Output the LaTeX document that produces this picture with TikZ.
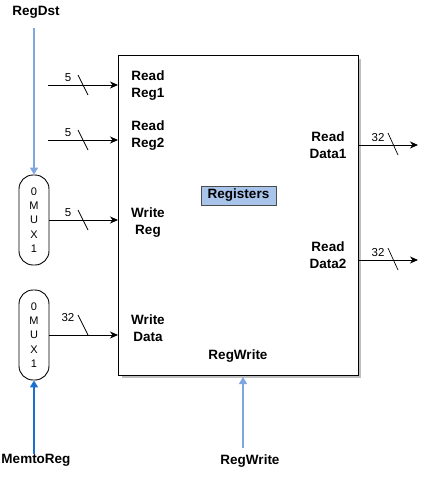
\documentclass[tikz,border=0pt]{standalone}
\usepackage{fontspec}
\setmainfont{Liberation Sans}
\usetikzlibrary{arrows.meta,positioning}
\definecolor{ltblue}{HTML}{7EA6E0}
\definecolor{dkblue}{HTML}{1B6FD1}
\definecolor{regfill}{HTML}{A9C4EB}
\tikzset{
  x=1pt,y=-1pt,
  lbl/.style={font=\fontsize{13.5}{17}\selectfont\bfseries, align=center, inner sep=0pt},
  num/.style={font=\fontsize{11.5}{13}\selectfont, inner sep=0pt},
  muxbox/.style={draw, line width=0.9pt, rounded corners=14pt, minimum width=30pt, minimum height=90pt, inner sep=0pt, align=center, font=\fontsize{11}{14.2}\selectfont},
  bus/.style={line width=0.9pt, -{Stealth[length=8pt,width=7pt,inset=2.5pt]}},
  ctl/.style={line width=1.4pt, -{Triangle[length=7pt,width=8pt]}},
  slashmark/.style={line width=0.7pt}
}
\begin{document}
\begin{tikzpicture}
\useasboundingbox (0,0) rectangle (437,485);
% register file box with shadow
\fill[black!25] (122,59) rectangle (361,378);
\node[draw, fill=white, line width=1pt, minimum width=240pt, minimum height=320pt, inner sep=0pt, anchor=north west] (rf) at (118,55) {};
\node[draw=black!70, fill=regfill, line width=0.8pt, minimum width=75pt, minimum height=19pt, inner sep=0pt, font=\fontsize{13.5}{15}\selectfont\bfseries] (regs) at (238.5,195.5) {Registers};
% inside labels
\node[lbl] (rr1) at (148,86) {Read\\Reg1};
\node[lbl] (rr2) at (148,136) {Read\\Reg2};
\node[lbl] (wr) at (148,223) {Write\\Reg};
\node[lbl] (wd) at (148,328) {Write\\Data};
\node[lbl] (rd1) at (328,145) {Read\\Data1};
\node[lbl] (rd2) at (328,255) {Read\\Data2};
\node[lbl] (rwin) at (238,356) {RegWrite};
% muxes
\node[muxbox] (mux1) at (34,220) {0\\M\\U\\X\\1};
\node[muxbox] (mux2) at (34,335) {0\\M\\U\\X\\1};
% control labels
\node[lbl] (regdst) at (36,12) {RegDst};
\node[lbl] (memtoreg) at (36,460) {MemtoReg};
\node[lbl] (regwrite) at (250,461) {RegWrite};
% control arrows
\coordinate (c1) at (34,28);
\draw[ctl, draw=ltblue, fill=dkblue] (c1) -- (mux1.north);
\draw[ctl, draw=dkblue, fill=dkblue] (memtoreg.north -| mux2.south) -- (mux2.south);
\coordinate (c3) at (243,448);
\draw[ctl, draw=ltblue, fill=dkblue] (c3) -- (243,377);
% input buses
\coordinate (i1) at (48,85);
\coordinate (i2) at (48,140);
\draw[bus] (i1) -- (i1 -| rf.west);
\draw[bus] (i2) -- (i2 -| rf.west);
\draw[bus] (mux1.east) -- (mux1.east -| rf.west);
\draw[bus] (mux2.east) -- (mux2.east -| rf.west);
\foreach \y/\n in {85/5,140/5,220/5,325/32}{
  \draw[slashmark] (78,\y-10) -- (88,\y+10);
  \node[num, anchor=south] at (68,\y-3) {\n};
}
% output buses
\coordinate (o1) at (418,145);
\coordinate (o2) at (418,260);
\draw[bus] (o1 -| rf.east) -- (o1);
\draw[bus] (o2 -| rf.east) -- (o2);
\foreach \y in {145,260}{
  \draw[slashmark] (388,\y-12) -- (398,\y+10);
  \node[num, anchor=south] at (378,\y-3) {32};
}
\end{tikzpicture}
\end{document}
